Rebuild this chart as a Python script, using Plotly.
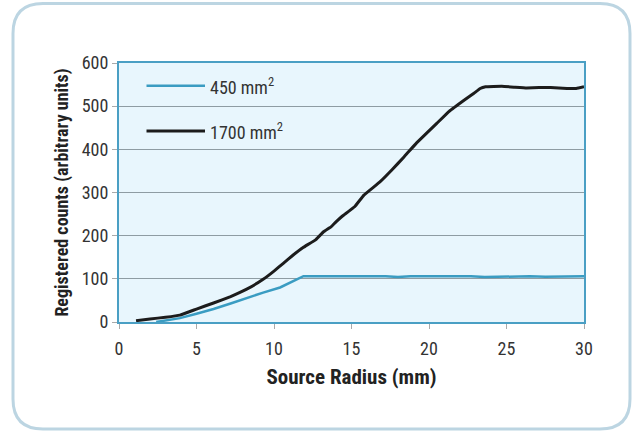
import plotly.graph_objects as go

# Data
radius_1700 = [1.1, 2.0, 3.0, 3.93, 5.0, 6.1, 7.2, 8.24, 9.3, 10.0, 10.6, 11.2, 11.9, 12.7, 13.2, 13.7, 14.0, 14.4, 15.2, 15.8,
               16.85, 17.6, 18.4, 19.2, 20.5, 21.3, 22.35, 22.9, 23.3, 23.65, 24.7, 25.5, 26.3, 27.1, 27.85, 28.9, 29.5, 30.0]
counts_1700 = [3, 7, 11, 16, 30, 44, 59, 76, 99, 118, 136, 154, 173, 191, 209, 221, 232, 245, 267, 294,
               325, 352, 383, 415, 460, 488, 516, 530, 541, 545, 546, 544, 542, 543, 543, 541, 541, 545]

radius_450 = [2.4, 3.0, 3.93, 5.0, 6.1, 7.2, 8.24, 9.3, 10.39, 11.14, 11.9, 13.5, 15.0, 16.5, 17.2, 18.0, 18.8,
              20.0, 21.5, 22.7, 23.6, 24.5, 25.5, 26.5, 27.5, 28.5, 29.5, 30.0]
counts_450 = [0, 3, 9, 19, 30, 43, 56, 68, 80, 92, 106, 106, 106, 106, 106, 104, 106,
              106, 106, 106, 104, 105, 106, 106, 105, 105, 105, 106]

series_names = ["450 mm<sup>2</sup>", "1700 mm<sup>2</sup>"]
x_ticks = [0, 5, 10, 15, 20, 25, 30]
y_ticks = [0, 100, 200, 300, 400, 500, 600]

W, H = 634, 432
ML, MR, MT, MB = 119, 50, 63, 110
PW, PH = W - ML - MR, H - MT - MB

def px(x):
    return (x - ML) / PW

def py(y):
    return 1 - (y - MT) / PH

FONT = "Liberation Sans Narrow, Arial Narrow, Roboto Condensed, Liberation Sans, Arial, sans-serif"
BLUE = "#3a9cc2"
BLACK = "#1c1c1c"

fig = go.Figure()
fig.add_trace(go.Scatter(x=radius_450, y=counts_450, mode="lines", name=series_names[0],
                         line=dict(color=BLUE, width=2.5)))
fig.add_trace(go.Scatter(x=radius_1700, y=counts_1700, mode="lines", name=series_names[1],
                         line=dict(color=BLACK, width=3, shape="spline", smoothing=0.2)))

shapes = []
# outer rounded frame
x0, y0, x1, y1, r = 13, 3.5, 630, 429, 30
def P(x, y):
    return f"{px(x):.5f},{py(y):.5f}"
path = (f"M {P(x0 + r, y0)} L {P(x1 - r, y0)} Q {P(x1, y0)} {P(x1, y0 + r)} "
        f"L {P(x1, y1 - r)} Q {P(x1, y1)} {P(x1 - r, y1)} L {P(x0 + r, y1)} "
        f"Q {P(x0, y1)} {P(x0, y1 - r)} L {P(x0, y0 + r)} Q {P(x0, y0)} {P(x0 + r, y0)} Z")
shapes.append(dict(type="path", xref="paper", yref="paper", path=path,
                   line=dict(color="#bcd5e2", width=3), layer="below"))
# legend samples
for yy, col, w in [(85.7, BLUE, 2.5), (131, BLACK, 3)]:
    shapes.append(dict(type="line", xref="paper", yref="paper", x0=px(146.5), x1=px(205),
                       y0=py(yy), y1=py(yy), line=dict(color=col, width=w)))

annotations = []
for yy, name in [(85.7, series_names[0]), (131, series_names[1])]:
    annotations.append(dict(xref="paper", yref="paper", x=px(208), y=py(yy), xanchor="left",
                            yanchor="middle", text=name, showarrow=False,
                            font=dict(family=FONT, size=18, color="#333333")))

fig.update_layout(
    width=W, height=H,
    margin=dict(l=ML, r=MR, t=MT, b=MB),
    paper_bgcolor="white",
    plot_bgcolor="#e8f6fd",
    showlegend=False,
    shapes=shapes,
    annotations=annotations,
    font=dict(family=FONT, size=18, color="#333333"),
)
fig.update_xaxes(range=[0, 30], tickvals=x_ticks, ticks="outside", ticklen=5, tickcolor="#aaaaaa",
                 ticklabelstandoff=4,
                 showgrid=False, zeroline=False, showline=True, linecolor="#4a9fc4", linewidth=2,
                 mirror=True, tickfont=dict(size=18, color="#333333"),
                 title=dict(text="<b>Source Radius (mm)</b>", font=dict(size=21, color="#222222"), standoff=12))
fig.update_yaxes(range=[0, 600], tickvals=y_ticks, ticks="outside", ticklen=5, tickcolor="#aaaaaa",
                 showgrid=True, gridcolor="#8e9ca3", gridwidth=1, zeroline=False,
                 showline=True, linecolor="#4a9fc4", linewidth=2, mirror=True,
                 tickfont=dict(size=18, color="#333333"),
                 title=dict(text="<b>Registered counts (arbitrary units)</b>", font=dict(size=18, color="#222222"), standoff=8))

fig.write_html("out.html", config={"displayModeBar": False},
               post_script="document.body.style.margin='0';document.body.style.padding='0';")
